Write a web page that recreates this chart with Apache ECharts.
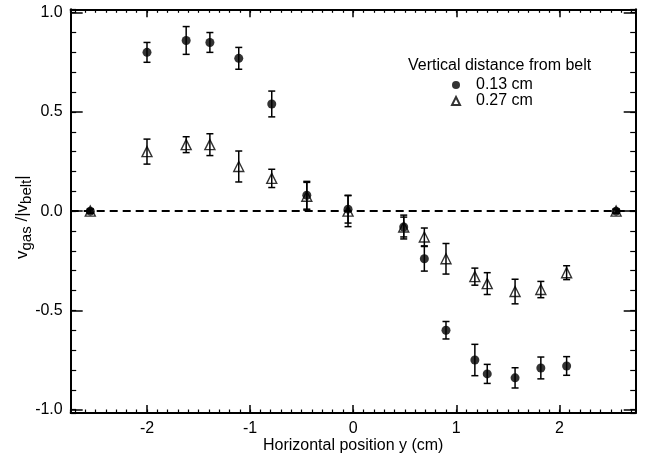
<!DOCTYPE html>
<html><head><meta charset="utf-8">
<script src="https://cdn.jsdelivr.net/npm/echarts@6.0.0/dist/echarts.min.js"></script>
<style>html,body{margin:0;padding:0;background:#fff}#c{width:646px;height:457px}</style>
</head><body><div id="c"></div>
<script>
// Horizontal positions (cm)
const xPos = [-2.55, -2.00, -1.62, -1.39, -1.11, -0.79, -0.45, -0.05, 0.49, 0.69, 0.90, 1.18, 1.30, 1.57, 1.82, 2.07, 2.55];
// 0.13 cm series
const yNear = [0, 0.80, 0.86, 0.85, 0.77, 0.54, 0.08, 0.01, -0.08, -0.24, -0.60, -0.75, -0.82, -0.84, -0.79, -0.78, 0];
const eNear = [0.01, 0.05, 0.07, 0.05, 0.055, 0.065, 0.07, 0.07, 0.06, 0.062, 0.044, 0.079, 0.048, 0.051, 0.055, 0.047, 0.01];
// 0.27 cm series
const yFar = [0, 0.30, 0.335, 0.335, 0.225, 0.165, 0.075, 0.0, -0.08, -0.13, -0.24, -0.33, -0.365, -0.405, -0.395, -0.31, 0];
const eFar = [0.01, 0.063, 0.04, 0.055, 0.078, 0.046, 0.07, 0.078, 0.05, 0.045, 0.077, 0.043, 0.055, 0.062, 0.041, 0.035, 0.01];
const seriesNames = ['0.13 cm', '0.27 cm'];
const legendTitle = 'Vertical distance from belt';
const xName = 'Horizontal position y (cm)';

const FONT = '"Liberation Sans", Arial, Helvetica, sans-serif';
const chart = echarts.init(document.getElementById('c'), null, {renderer: 'canvas'});

function errBars(ys, es) {
  return {
    type: 'custom', xAxisIndex: 0, yAxisIndex: 0, silent: true, z: 4,
    data: xPos.map((x, i) => [x, ys[i] - es[i], ys[i] + es[i]]),
    encode: {x: 0, y: [1, 2]},
    renderItem: (params, api) => {
      const x = api.value(0);
      const pLo = api.coord([x, api.value(1)]);
      const pHi = api.coord([x, api.value(2)]);
      const w = 3.5;
      const st = {stroke: '#000', lineWidth: 1.5};
      return {type: 'group', children: [
        {type: 'line', shape: {x1: pLo[0], y1: pLo[1], x2: pHi[0], y2: pHi[1]}, style: st},
        {type: 'line', shape: {x1: pLo[0] - w, y1: pLo[1], x2: pLo[0] + w, y2: pLo[1]}, style: st},
        {type: 'line', shape: {x1: pHi[0] - w, y1: pHi[1], x2: pHi[0] + w, y2: pHi[1]}, style: st}
      ]};
    }
  };
}

const gridPos = {left: 70.7, right: 10.3, top: 9.3, bottom: 44, outerBoundsMode: 'none', containLabel: false};
const XMIN = -2.74, XMAX = 2.74;
const YMIN = -1.017, YMAX = 1.017;
const lbl = {color: '#000', fontSize: 16, fontFamily: FONT};
const frameLine = {show: true, onZero: false, lineStyle: {color: '#000', width: 2}};
const noLine = {show: false, onZero: false};
const majTick = len => ({show: true, inside: true, length: len, lineStyle: {color: '#000', width: 1.5}});
const minTick = len => ({show: true, inside: true, length: len, lineStyle: {color: '#000', width: 1.2}});

const option = {
  animation: false,
  backgroundColor: '#fff',
  textStyle: {fontFamily: FONT, color: '#000'},
  title: {text: legendTitle, left: 408, top: 58, padding: 0,
    textStyle: {fontSize: 16, fontWeight: 'normal', color: '#000', fontFamily: FONT}},
  legend: {
    data: seriesNames, orient: 'vertical', left: 451, top: 77, padding: 0,
    itemWidth: 8, itemHeight: 8, itemGap: 0,
    textStyle: {fontSize: 16, color: '#000', fontFamily: FONT, lineHeight: 15, padding: [0, 0, 0, 11]}
  },
  grid: [Object.assign({}, gridPos), Object.assign({}, gridPos)],
  xAxis: [
    {type: 'value', gridIndex: 0, position: 'bottom', min: XMIN, max: XMAX, splitNumber: 5,
      name: xName, nameLocation: 'middle', nameGap: 25, nameMoveOverlap: false, nameTextStyle: lbl,
      axisLine: frameLine, axisTick: majTick(8),
      axisLabel: {show: true, margin: 8, showMinLabel: false, showMaxLabel: false, ...lbl,
        formatter: v => (Math.abs(v - Math.round(v)) < 1e-6 ? String(Math.round(v)) : '')},
      splitLine: {show: false}},
    {type: 'value', gridIndex: 0, position: 'top', min: XMIN, max: XMAX, splitNumber: 5,
      axisLine: frameLine, axisTick: majTick(8),
      axisLabel: {show: false}, splitLine: {show: false}},
    {type: 'value', gridIndex: 1, position: 'bottom', min: XMIN, max: XMAX, splitNumber: 55,
      axisLine: noLine, axisTick: minTick(3.5),
      axisLabel: {show: false}, splitLine: {show: false}},
    {type: 'value', gridIndex: 1, position: 'top', min: XMIN, max: XMAX, splitNumber: 55,
      axisLine: noLine, axisTick: minTick(3.5),
      axisLabel: {show: false}, splitLine: {show: false}}
  ],
  yAxis: [
    {type: 'value', gridIndex: 0, position: 'left', min: YMIN, max: YMAX, splitNumber: 4,
      name: '{v|v}{s|gas}{v| /|v}{s|belt}{v||}', nameLocation: 'middle', nameGap: 37, nameMoveOverlap: false,
      nameTextStyle: {color: '#000', fontFamily: FONT, padding: [0, 12, 0, 0], rich: {
        v: {fontSize: 17, fontFamily: FONT, color: '#000', lineHeight: 22},
        s: {fontSize: 15, fontFamily: FONT, color: '#000', lineHeight: 22, padding: [8, 0, 0, 0]}}},
      axisLine: frameLine, axisTick: majTick(12),
      axisLabel: {show: true, margin: 8, showMinLabel: false, showMaxLabel: false, ...lbl,
        formatter: v => (Math.abs(v * 2 - Math.round(v * 2)) < 1e-6 ? v.toFixed(1) : '')},
      splitLine: {show: false}},
    {type: 'value', gridIndex: 0, position: 'right', min: YMIN, max: YMAX, splitNumber: 4,
      axisLine: frameLine, axisTick: majTick(12),
      axisLabel: {show: false}, splitLine: {show: false}},
    {type: 'value', gridIndex: 1, position: 'left', min: YMIN, max: YMAX, splitNumber: 20,
      axisLine: noLine, axisTick: minTick(5.5),
      axisLabel: {show: false}, splitLine: {show: false}},
    {type: 'value', gridIndex: 1, position: 'right', min: YMIN, max: YMAX, splitNumber: 20,
      axisLine: noLine, axisTick: minTick(5.5),
      axisLabel: {show: false}, splitLine: {show: false}}
  ],
  series: [
    errBars(yNear, eNear),
    errBars(yFar, eFar),
    {type: 'scatter', name: seriesNames[0], xAxisIndex: 0, yAxisIndex: 0, z: 5,
      symbol: 'circle', symbolSize: 9,
      itemStyle: {color: '#000'},
      markLine: {silent: true, symbol: 'none', label: {show: false}, z: 3,
        lineStyle: {color: '#000', type: [8, 5], width: 1.8},
        data: [{yAxis: 0}]},
      data: xPos.map((x, i) => [x, yNear[i]])},
    {type: 'scatter', name: seriesNames[1], xAxisIndex: 0, yAxisIndex: 0, z: 5,
      symbol: 'triangle', symbolSize: 10,
      itemStyle: {color: 'rgba(255,255,255,0)', borderColor: '#000', borderWidth: 1.4},
      data: xPos.map((x, i) => [x, yFar[i]])}
  ]
};
chart.setOption(option);
</script></body></html>
